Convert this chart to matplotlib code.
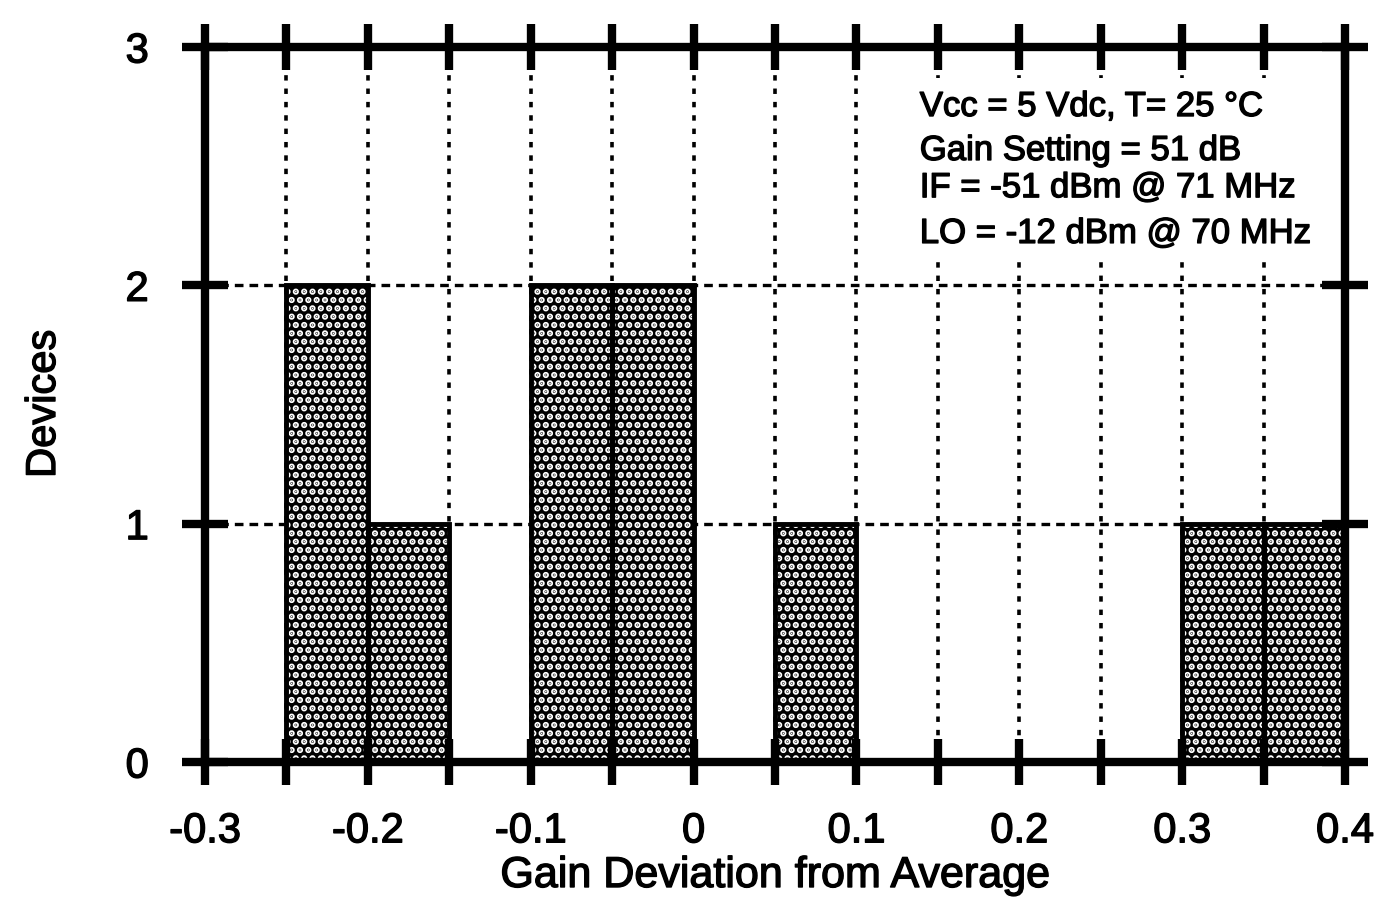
import matplotlib
matplotlib.use("Agg")
import matplotlib.pyplot as plt
import matplotlib.patheffects as pe
from matplotlib.patches import Rectangle

# Histogram of gain deviation (bin left edges, counts per 0.05 bin)
bin_left = [-0.25, -0.20, -0.10, -0.05, 0.05, 0.30, 0.35]
devices = [2, 1, 2, 2, 1, 1, 1]
bin_width = 0.05

x_major = [-0.3, -0.2, -0.1, 0.0, 0.1, 0.2, 0.3, 0.4]
x_labels = ["-0.3", "-0.2", "-0.1", "0", "0.1", "0.2", "0.3", "0.4"]
x_minor = [-0.25, -0.15, -0.05, 0.05, 0.15, 0.25, 0.35]
y_ticks = [0, 1, 2, 3]
y_labels = ["0", "1", "2", "3"]

conditions = [
    "Vcc = 5 Vdc, T= 25 °C",
    "Gain Setting = 51 dB",
    "IF = -51 dBm @ 71 MHz",
    "LO = -12 dBm @ 70 MHz",
]

plt.rcParams["font.family"] = ["Liberation Sans", "DejaVu Sans"]
plt.rcParams["hatch.linewidth"] = 3.2

heavy = [pe.withStroke(linewidth=1.0, foreground="black")]

W, H = 1379, 897
fig = plt.figure(figsize=(W / 100, H / 100), dpi=100)
ax = fig.add_axes([205 / W, 1 - 762 / H, 1140 / W, 715 / H])
ax.set_xlim(-0.3, 0.4)
ax.set_ylim(0, 3)

# dotted grid behind the bars
for xv in sorted(x_major + x_minor):
    if x_major[0] < xv < x_major[-1]:
        ax.axvline(xv, color="black", lw=2.6, ls=(0, (1.5, 2.2)), zorder=0.5)
for yv in y_ticks[1:-1]:
    ax.axhline(yv, color="black", lw=2.4, ls=(0, (2.6, 1.8)), zorder=0.5)

# white panel behind the test conditions
ax.add_patch(Rectangle((0.614, 0.709), 0.355, 0.248, transform=ax.transAxes,
                       facecolor="white", edgecolor="none", zorder=0.8))

# halftone bars: black fill, white dot screen, black outline
ax.bar(bin_left, devices, width=bin_width, align="edge",
       color="black", edgecolor="black", linewidth=2.5, zorder=1)
ax.bar(bin_left, devices, width=bin_width, align="edge",
       facecolor="none", edgecolor="white", linewidth=0, hatch="..", zorder=1.1)
ax.bar(bin_left, devices, width=bin_width, align="edge",
       facecolor="none", edgecolor="black", linewidth=3.5, zorder=1.2)

ax.set_xticks(x_major)
ax.set_xticklabels(x_labels)
ax.set_xticks(x_minor, minor=True)
ax.set_yticks(y_ticks)
ax.set_yticklabels(y_labels)

for s in ax.spines.values():
    s.set_linewidth(6)

ax.tick_params(which="both", direction="inout", length=33, width=6,
               top=True, right=True, color="black")
ax.tick_params(axis="x", which="major", labelsize=30, pad=19)
ax.tick_params(axis="y", labelsize=30, pad=24)
for lbl in ax.get_xticklabels() + ax.get_yticklabels():
    lbl.set_path_effects(heavy)

for i, line in enumerate(conditions):
    ybase = [0.9035, 0.842, 0.790, 0.726][i]
    ax.text(0.627, ybase, line, transform=ax.transAxes, fontsize=25,
            ha="left", va="baseline", zorder=3, path_effects=heavy)

fig.text(775 / W, 1 - 887 / H, "Gain Deviation from Average", fontsize=31,
         ha="center", va="baseline", path_effects=heavy)
fig.text(55 / W, 1 - 404 / H, "Devices", fontsize=30, rotation=90,
         rotation_mode="anchor", ha="center", va="baseline", path_effects=heavy)

fig.savefig("out.png", dpi=100)
